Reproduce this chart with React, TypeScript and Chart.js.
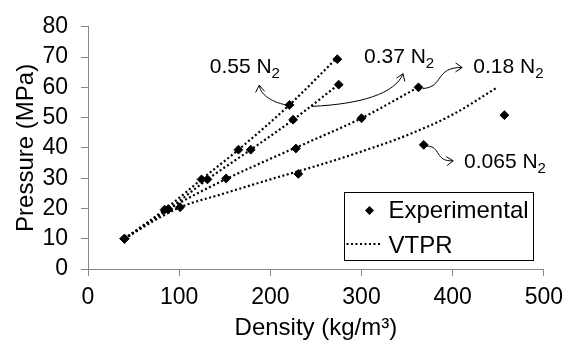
import { useEffect, useRef } from 'react';
import { Chart, registerables } from 'chart.js';

Chart.register(...registerables);

const FONT = "'Liberation Sans', Arial, sans-serif";

// Axis ranges (density kg/m3, pressure MPa)
const xMin = 0;
const xMax = 500;
const xStep = 100;
const yMin = 0;
const yMax = 80;
const yStep = 10;

// Experimental points per N2 mole fraction
const exp055Density = [40, 84, 124.5, 165, 221, 273.5];
const exp055Pressure = [10, 19.6, 29.6, 39.4, 54.2, 69.3];
const exp037Density = [40, 88, 131, 178.5, 225, 275];
const exp037Pressure = [10, 19.7, 29.6, 39.4, 49.3, 60.9];
const exp018Density = [40, 88, 151.5, 228, 300, 362.5];
const exp018Pressure = [10, 19.8, 29.9, 39.8, 49.8, 60.0];
const exp0065Density = [40, 101, 230.7, 368.3, 456.8];
const exp0065Pressure = [10, 20.4, 31.4, 41.0, 50.8];

// VTPR model curves
const vtpr055Density = [40, 84, 124.5, 165, 221, 270];
const vtpr055Pressure = [10, 19.6, 29.6, 39.4, 54.2, 68.8];
const vtpr037Density = [40, 88, 131, 178.5, 225, 273];
const vtpr037Pressure = [10, 19.7, 29.6, 39.4, 49.3, 60.5];
const vtpr018Density = [40, 90, 150, 200, 250, 300, 362];
const vtpr018Pressure = [10, 20, 29.5, 36.4, 43.0, 49.8, 60.0];
const vtpr0065Density = [40, 70, 101, 150, 200, 250, 300, 350, 400, 449];
const vtpr0065Pressure = [10, 15.5, 20.4, 25.0, 29.6, 34.0, 38.8, 44.2, 51.0, 60.0];

// Mole fraction labels for the callouts
const fractionLabels = ['0.55', '0.37', '0.18', '0.065'];

// Callout text anchors and arrow curves, in (density, pressure) units
const calloutText: [number, number][] = [
  [133.5, 64.7],
  [302.7, 68.1],
  [422.6, 64.7],
  [412.5, 33.3],
];
const calloutCurves: [number, number][][] = [
  [[218.1, 54.1], [198.7, 55.4], [189.0, 57.9], [187.9, 60.7]],
  [[245.1, 53.7], [299.1, 54.45], [336.9, 57.9], [345.6, 64.5]],
  [[367.2, 59.6], [390.9, 60.1], [380.1, 66.7], [410.4, 66.55]],
  [[371.5, 40.6], [387.7, 40.6], [380.1, 35.3], [400.6, 35.75]],
];

const legendLabels = ['Experimental', 'VTPR'];

const zip = (xs: number[], ys: number[]) => xs.map((x, i) => ({ x, y: ys[i] }));

const calloutPlugin = {
  id: 'callouts',
  afterDatasetsDraw(chart: any) {
    const { ctx, scales } = chart;
    const px = (p: [number, number]) => [scales.x.getPixelForValue(p[0]), scales.y.getPixelForValue(p[1])];
    ctx.save();
    ctx.strokeStyle = '#000';
    ctx.fillStyle = '#000';
    ctx.lineWidth = 1;
    calloutCurves.forEach((curve, i) => {
      const [a, b, c, d] = curve.map(px);
      ctx.beginPath();
      ctx.moveTo(a[0], a[1]);
      ctx.bezierCurveTo(b[0], b[1], c[0], c[1], d[0], d[1]);
      ctx.stroke();
      // open arrowhead along the final tangent
      const ang = Math.atan2(d[1] - c[1], d[0] - c[0]);
      const len = 8;
      const spread = 0.6;
      ctx.beginPath();
      ctx.moveTo(d[0] - len * Math.cos(ang - spread), d[1] - len * Math.sin(ang - spread));
      ctx.lineTo(d[0], d[1]);
      ctx.lineTo(d[0] - len * Math.cos(ang + spread), d[1] - len * Math.sin(ang + spread));
      ctx.stroke();

      const [tx, ty] = px(calloutText[i]);
      ctx.textBaseline = 'alphabetic';
      ctx.textAlign = 'left';
      ctx.font = `21px ${FONT}`;
      const main = `${fractionLabels[i]} N`;
      ctx.fillText(main, tx, ty);
      const w = ctx.measureText(main).width;
      ctx.font = `15px ${FONT}`;
      ctx.fillText('2', tx + w, ty + 5);
    });
    ctx.restore();
  },
};

const legendPlugin = {
  id: 'boxLegend',
  afterDraw(chart: any) {
    const { ctx, chartArea } = chart;
    const left = Math.round(chartArea.right - 200) + 0.5;
    const top = Math.round(chartArea.bottom - 77) + 0.5;
    const w = 189;
    const h = 68;
    ctx.save();
    ctx.fillStyle = '#fff';
    ctx.fillRect(left, top, w, h);
    ctx.strokeStyle = '#000';
    ctx.lineWidth = 1;
    ctx.strokeRect(left, top, w, h);

    // diamond marker
    const cx = left + 25;
    const cy = top + 18;
    const r = 4.5;
    ctx.fillStyle = '#000';
    ctx.beginPath();
    ctx.moveTo(cx, cy - r);
    ctx.lineTo(cx + r, cy);
    ctx.lineTo(cx, cy + r);
    ctx.lineTo(cx - r, cy);
    ctx.closePath();
    ctx.fill();

    // dotted sample
    ctx.strokeStyle = '#000';
    ctx.lineWidth = 2;
    ctx.setLineDash([2, 2.5]);
    ctx.beginPath();
    ctx.moveTo(left + 2, top + 51.5);
    ctx.lineTo(left + 37, top + 51.5);
    ctx.stroke();
    ctx.setLineDash([]);

    ctx.font = `24px ${FONT}`;
    ctx.textAlign = 'left';
    ctx.textBaseline = 'alphabetic';
    ctx.fillText(legendLabels[0], left + 44, top + 25);
    ctx.fillText(legendLabels[1], left + 44, top + 60);
    ctx.restore();
  },
};

export default function App() {
  const ref = useRef<HTMLCanvasElement>(null);

  useEffect(() => {
    const canvas = ref.current;
    if (!canvas) return;

    const expSeries = [
      zip(exp055Density, exp055Pressure),
      zip(exp037Density, exp037Pressure),
      zip(exp018Density, exp018Pressure),
      zip(exp0065Density, exp0065Pressure),
    ];
    const vtprSeries = [
      zip(vtpr055Density, vtpr055Pressure),
      zip(vtpr037Density, vtpr037Pressure),
      zip(vtpr018Density, vtpr018Pressure),
      zip(vtpr0065Density, vtpr0065Pressure),
    ];

    const datasets: any[] = [
      ...expSeries.map((data, i) => ({
        type: 'scatter',
        label: `${legendLabels[0]} ${fractionLabels[i]}`,
        data,
        showLine: false,
        pointStyle: 'rectRot',
        pointRadius: 4.4,
        pointBackgroundColor: '#000',
        pointBorderColor: '#000',
        pointBorderWidth: 1,
      })),
      ...vtprSeries.map((data, i) => ({
        type: 'line',
        label: `${legendLabels[1]} ${fractionLabels[i]}`,
        data,
        borderColor: '#000',
        borderWidth: 2.2,
        borderDash: [2, 2.5],
        borderCapStyle: 'butt',
        pointRadius: 0,
        fill: false,
        cubicInterpolationMode: 'monotone',
      })),
    ];

    const chart = new Chart(canvas, {
      type: 'scatter',
      data: { datasets },
      options: {
        animation: false,
        responsive: true,
        maintainAspectRatio: false,
        layout: { padding: { left: 0, top: 15, right: 20, bottom: 0 } },
        plugins: {
          legend: { display: false },
          tooltip: { enabled: false },
        },
        scales: {
          x: {
            type: 'linear',
            min: xMin,
            max: xMax,
            ticks: { stepSize: xStep, autoSkip: false, color: '#000', font: { family: FONT, size: 23 }, padding: 8 },
            grid: { drawOnChartArea: false, drawTicks: true, tickLength: 7, color: '#868686' },
            border: { color: '#868686', width: 1 },
            title: {
              display: true,
              text: 'Density (kg/m³)',
              color: '#000',
              font: { family: FONT, size: 24 },
              padding: { top: 0, bottom: 3 },
            },
            afterFit: (s: any) => {
              s.height = 77;
            },
          },
          y: {
            type: 'linear',
            min: yMin,
            max: yMax,
            ticks: { stepSize: yStep, autoSkip: false, color: '#000', font: { family: FONT, size: 23 }, padding: 13 },
            grid: { drawOnChartArea: false, drawTicks: true, tickLength: 7, color: '#868686' },
            border: { color: '#868686', width: 1 },
            title: {
              display: true,
              text: 'Pressure (MPa)',
              color: '#000',
              font: { family: FONT, size: 24 },
              padding: { top: 12, bottom: 0 },
            },
            afterFit: (s: any) => {
              s.width = 88;
            },
          },
        },
      },
      plugins: [calloutPlugin, legendPlugin],
    });

    return () => chart.destroy();
  }, []);

  return (
    <div style={{ position: 'fixed', left: 0, top: 0, width: 571, height: 346, background: '#fff' }}>
      <canvas ref={ref} />
    </div>
  );
}
